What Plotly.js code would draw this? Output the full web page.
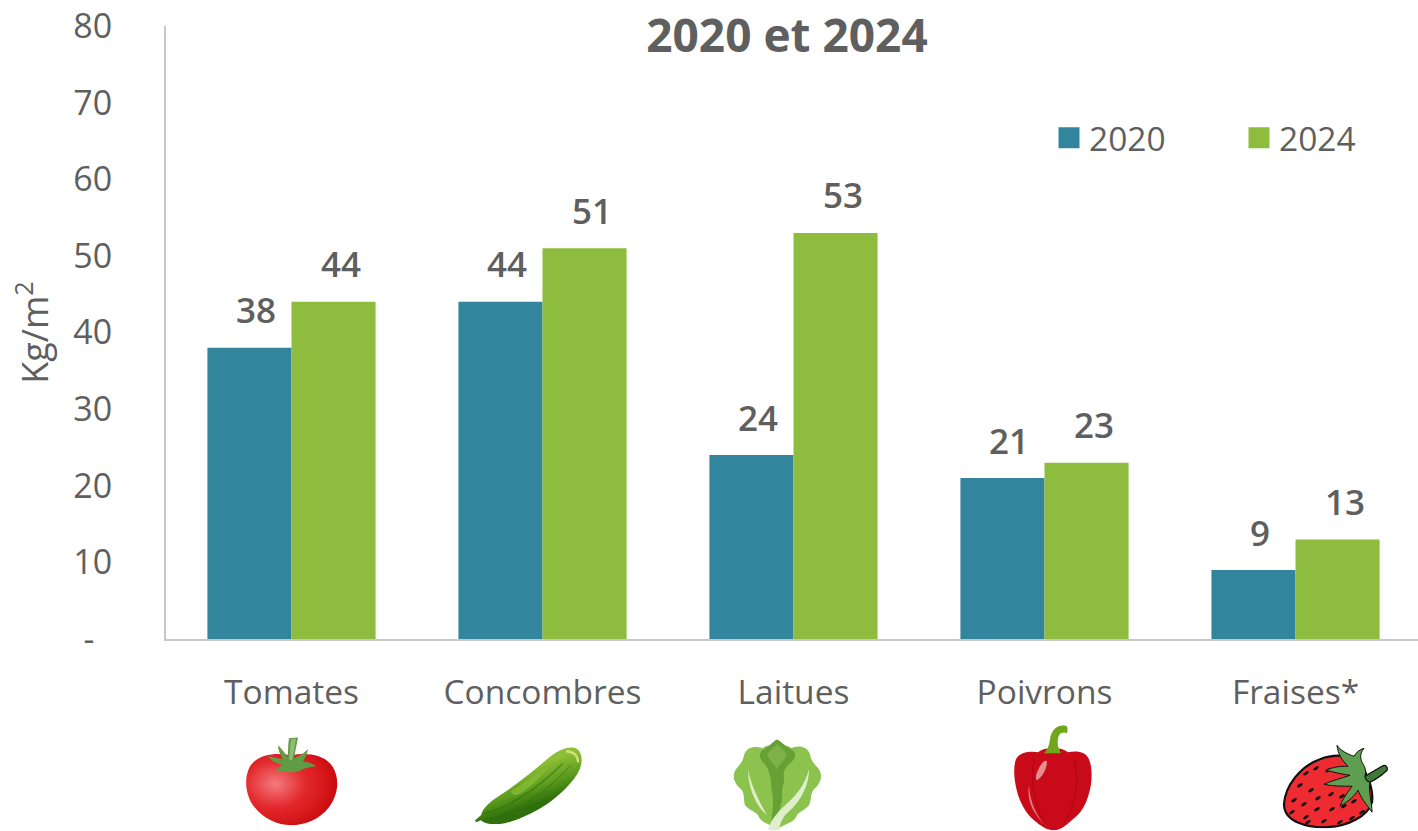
<!DOCTYPE html>
<html lang="fr">
<head>
<meta charset="utf-8">
<title>Rendements 2020 et 2024</title>
<script src="https://cdn.plot.ly/plotly-3.0.1.min.js"></script>
<style>html,body{margin:0;padding:0;background:#fff;overflow:hidden}</style>
</head>
<body>
<div id="chart" style="width:1418px;height:831px"></div>
<script>
// Rendement par culture, en kg/m2
const categories = ['Tomates', 'Concombres', 'Laitues', 'Poivrons', 'Fraises*'];
const values2020 = [38, 44, 24, 21, 9];
const values2024 = [44, 51, 53, 23, 13];
const seriesNames = ['2020', '2024'];
const yTicks = [0, 10, 20, 30, 40, 50, 60, 70, 80];
const yTickLabels = ['-\u00a0\u00a0', '10', '20', '30', '40', '50', '60', '70', '80'];

const TEAL = '#32859d';
const GREEN = '#8ebc3f';
const TEXT = '#5f5f5f';
const W = 1418, H = 831;
const M = {l: 166, r: 0, t: 25.5, b: 191.5, autoexpand: false};
const FONT = '"Open Sans", sans-serif';

// Petites illustrations dessinées sous chaque catégorie
const tomato = `<svg xmlns="http://www.w3.org/2000/svg" viewBox="0 0 93 88">
<defs><radialGradient id="t" cx=".32" cy=".42" r=".75"><stop offset="0" stop-color="#f47a7e"/><stop offset=".45" stop-color="#e2282c"/><stop offset="1" stop-color="#c70608"/></radialGradient></defs>
<path d="M46 18C62 15 80 17 88 30C95 42 93 58 84 70C75 82 60 88 46 88C32 88 17 81 8 68C0 56-1 40 5 29C13 17 30 15 46 18Z" fill="url(#t)"/>
<path d="M44 1L53 0C52 7 50 14 49 21C54 19 59 16 63 12C62 18 60 21 58 24C63 25 67 26 71 29C64 30 59 31 54 34C47 36 40 35 30 33C34 31 36 29 37 27C31 26 27 24 23 19C28 20 33 21 38 22C35 17 33 13 33 8C37 12 40 16 43 20C43 14 43 7 44 1Z" fill="#5f9c43"/>
<path d="M46 2L51 1C50 8 49 14 47 23L44 22C45 15 45 8 46 2Z" fill="#8fbb78"/></svg>`;

const cucumber = `<svg xmlns="http://www.w3.org/2000/svg" viewBox="0 0 107 77">
<defs><linearGradient id="c" x1=".42" y1=".3" x2=".62" y2=".72"><stop offset="0" stop-color="#8fbf36"/><stop offset=".55" stop-color="#5c9c1e"/><stop offset="1" stop-color="#2f6f0c"/></linearGradient></defs>
<path d="M0 73L6 68C8 60 16 54 25 48C42 37 58 24 72 12C81 4 90 0 98 0C105 1 108 9 106 18C103 30 90 43 76 54C62 64 46 72 30 76C20 78 10 77 6 73L1 75Z" fill="url(#c)"/>
<path d="M36 44C50 36 62 26 76 14C72 26 58 38 46 46C41 49 37 48 36 44Z" fill="#84b833" opacity=".85"/>
<path d="M9 66C32 62 62 42 88 16" fill="none" stroke="#2d6c10" stroke-width="1.5" opacity=".55"/>
<path d="M14 72C38 68 70 46 96 18" fill="none" stroke="#2d6c10" stroke-width="1.2" opacity=".4"/>
<path d="M91 4C98 4 103 8 103 15" fill="none" stroke="#cfe27a" stroke-width="2.5"/></svg>`;

const lettuce = `<svg xmlns="http://www.w3.org/2000/svg" viewBox="0 0 89 91">
<path d="M44 91C38 84 30 85 26 78C24 72 18 73 12 66C10 58 12 54 8 50C0 43-1 36 3 30C7 25 10 22 11 16C14 6 24 7 30 9C34 4 54 4 58 9C64 6 74 6 77 15C78 22 82 25 86 30C90 37 88 44 81 50C77 54 79 60 76 66C70 73 65 72 63 78C59 85 50 84 44 91Z" fill="#8cc24e"/>
<path d="M44 0C48 2 52 7 58 10C65 14 62 20 57 24C52 28 50 32 51 38C52 43 49 47 49 52C49 58 50 62 46 72C44 78 42 84 41 91L38 91C38 82 40 70 40 62C40 56 38 48 38 44C38 38 36 30 31 24C27 20 24 14 31 10C37 7 40 2 44 0Z" fill="#66a136"/>
<path d="M44 5C48 9 52 12 54 15C52 21 47 24 44 30C41 24 36 21 34 15C36 12 40 9 44 5Z" fill="#7db24a"/>
<path d="M15 30C15 50 24 68 34 76C26 62 18 46 15 30Z" fill="#dfeecb"/>
<path d="M76 30C76 50 64 66 54 74C50 78 47 84 46 91L35 91C37 82 44 74 50 68C62 58 72 46 76 30Z" fill="#dfeecb"/></svg>`;

const pepper = `<svg xmlns="http://www.w3.org/2000/svg" viewBox="0 0 78 105">
<path d="M39 24C44 22 50 24 54 27C62 25 72 26 75 34C79 44 78 58 75 68C72 80 66 89 60 93C54 98 48 105 40 105C32 105 26 100 20 95C12 88 6 78 3 66C0 54-1 42 2 34C6 26 18 26 24 27C28 24 34 22 39 24Z" fill="#c90a18"/>
<path d="M30 28C34 24 35 20 36 14C37 6 42 0 50 0C54 0 54 4 53 8C48 6 45 8 44 13C43 18 44 23 47 28Z" fill="#6fa61d"/>
<path d="M20 34C18 50 18 76 30 98M60 34C66 54 62 80 50 98" fill="none" stroke="#a90412" stroke-width="1.5" opacity=".6"/>
<path d="M24 45C27 38 31 34 33 36C33 44 28 52 23 55C21 53 22 49 24 45Z" fill="#e58d90"/>
<path d="M15 60C16 76 22 92 34 102C22 92 12 78 15 60Z" fill="#e2777c"/></svg>`;

const seedPositions = [[34,30],[24,35],[46,32],[18,47],[29,52],[12,62],[22,66],[36,60],[49,56],[60,58],[10,74],[24,79],[35,71],[50,71],[62,68],[72,63],[26,84],[42,83],[58,84],[70,80],[80,74]];
const seeds = seedPositions.map(p => `<ellipse cx="${p[0]}" cy="${p[1] - 6}" rx="1.4" ry="3.2" transform="rotate(55 ${p[0]} ${p[1] - 6})" fill="#111"/>`).join('');
const strawberry = `<svg xmlns="http://www.w3.org/2000/svg" viewBox="0 0 106 84">
<path d="M2 60C3 42 18 22 38 15C50 10 66 10 76 16C84 26 92 44 90 58C86 72 66 82 46 83C26 84 2 78 2 60Z" fill="#ee2b30" stroke="#111" stroke-width="2.2"/>${seeds}
<path d="M55 1C58 6 66 10 72 12C74 8 78 5 82 4C78 9 78 13 80 18C84 24 84 27 83 32L100 22C103 20 106 22 105 26C100 31 92 36 88 38C86 46 90 58 90 68C84 60 78 52 76 46C72 52 68 56 58 62C62 52 66 48 70 42C60 42 50 42 42 40C50 36 60 34 68 31C60 30 52 28 44 26C52 22 60 22 66 22C60 16 56 10 55 1Z" fill="#5f9e50" stroke="#111" stroke-width="1"/>
<path d="M83 32L100 22C103 20 106 22 105 26C100 31 92 36 88 38C85 37 83 35 83 32Z" fill="#3f7a38" stroke="#111" stroke-width="1.2"/></svg>`;

// Illustration et emplacement de chacune, en pixels de la page [x0, x1, y0, y1]
const icons = [
  [tomato, 245, 338, 738, 826],
  [cucumber, 475, 582, 748, 825],
  [lettuce, 733, 822, 740, 831],
  [pepper, 1014, 1092, 726, 831],
  [strawberry, 1282, 1388, 745, 829]
];

const plotW = W - M.l - M.r, plotH = H - M.t - M.b;
const toPaperX = px => (px - M.l) / plotW;
const toPaperY = py => 1 - (py - M.t) / plotH;

const images = icons.map(([svg, x0, x1, y0, y1]) => ({
  source: 'data:image/svg+xml;charset=utf-8,' + encodeURIComponent(svg),
  xref: 'paper', yref: 'paper',
  x: toPaperX(x0), y: toPaperY(y0),
  sizex: (x1 - x0) / plotW, sizey: (y1 - y0) / plotH,
  xanchor: 'left', yanchor: 'top', sizing: 'stretch', layer: 'above'
}));

const BAR_WIDTH = 0.67;
const valueLabels = (vals, side) => vals.map((v, i) => ({
  x: i + side * BAR_WIDTH / 4, y: v, xref: 'x', yref: 'y',
  text: String(v), showarrow: false, xanchor: 'center', yanchor: 'middle',
  xshift: 7, yshift: 38,
  font: {family: FONT, size: 35, color: TEXT, weight: 600}
}));

const barTrace = (name, vals, color) => ({
  type: 'bar', name, x: categories, y: vals,
  marker: {color}, showlegend: false, hoverinfo: 'x+y'
});
// Entrées de légende : carrés pleins plus grands que la pastille standard des barres
const legendTrace = (name, color) => ({
  type: 'scatter', mode: 'markers', name, x: [null], y: [null],
  marker: {symbol: 'square', size: 16, color, line: {color, width: 5}}
});

const data = [
  barTrace(seriesNames[0], values2020, TEAL),
  barTrace(seriesNames[1], values2024, GREEN),
  legendTrace(seriesNames[0], TEAL),
  legendTrace(seriesNames[1], GREEN)
];

const layout = {
  width: W, height: H, margin: M,
  paper_bgcolor: '#fff', plot_bgcolor: '#fff',
  font: {family: FONT, color: TEXT},
  title: {
    text: '<b>2020 et 2024</b>',
    x: 787 / W, y: 1 - 36 / H, xanchor: 'center', yanchor: 'middle',
    font: {family: FONT, size: 46, color: TEXT}
  },
  barmode: 'group', bargap: 1 - BAR_WIDTH, bargroupgap: 0,
  xaxis: {
    type: 'category', categoryorder: 'array', categoryarray: categories,
    range: [-0.5, 4.488], autorange: false,
    showline: true, linecolor: '#c8c8c8', linewidth: 2,
    ticks: '', showgrid: false, zeroline: false,
    ticklabelstandoff: 23,
    tickfont: {family: FONT, size: 33.5, color: TEXT}
  },
  yaxis: {
    range: [0, 80], autorange: false,
    tickmode: 'array', tickvals: yTicks, ticktext: yTickLabels,
    showline: true, linecolor: '#c8c8c8', linewidth: 2,
    ticks: '', showgrid: false, zeroline: false,
    ticklabelstandoff: 45,
    tickfont: {family: FONT, size: 34, color: TEXT},
    title: {text: 'Kg/m<sup>2</sup>', standoff: 14, font: {family: FONT, size: 36, color: TEXT}}
  },
  legend: {
    orientation: 'h', x: toPaperX(1049), y: toPaperY(109), xanchor: 'left', yanchor: 'top',
    entrywidth: 145, entrywidthmode: 'pixels',
    font: {family: FONT, size: 33.5, color: TEXT},
    bgcolor: 'rgba(0,0,0,0)', traceorder: 'normal'
  },
  annotations: [...valueLabels(values2020, -1), ...valueLabels(values2024, 1)],
  images
};

Plotly.newPlot('chart', data, layout, {displayModeBar: false, responsive: false});
</script>
</body>
</html>
